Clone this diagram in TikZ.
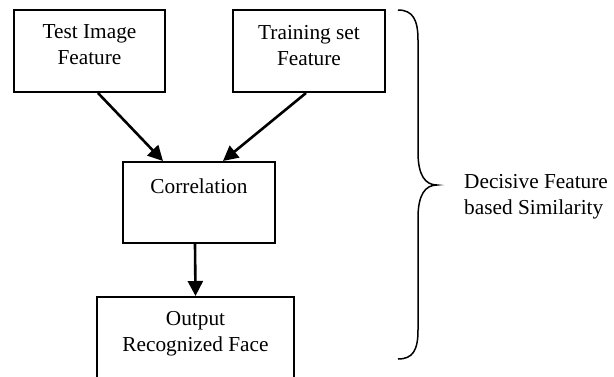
\documentclass[tikz,border=0pt]{standalone}
\usepackage{fontspec}
\setmainfont{Liberation Serif}
\usetikzlibrary{arrows.meta}
\begin{document}
\begin{tikzpicture}[x=1pt,y=-1pt,
  font=\fontsize{21.3}{26}\selectfont,
  blockbox/.style={draw,line width=2pt,inner sep=0pt,align=center},
  flow/.style={line width=2.6pt,-{Triangle[length=15pt,width=15pt]}}]
  \clip (0,0) rectangle (614,376);
  \fill[white] (0,0) rectangle (614,376);

  % blocks
  \node[blockbox,minimum width=151pt,minimum height=82pt,text depth=12pt]
    (test) at (89.5,51) {Test Image\\Feature};
  \node[blockbox,minimum width=152pt,minimum height=82pt,text depth=12pt]
    (train) at (309,51) {Training set\\Feature};
  \node[blockbox,minimum width=152pt,minimum height=81pt,text depth=33pt]
    (corr) at (199,202.5) {Correlation};
  \node[blockbox,minimum width=197pt,minimum height=90pt,text depth=21pt]
    (out) at (195.5,342) {Output\\Recognized Face};

  % connectors
  \draw[flow] ([xshift=8.5pt]test.south) -- ([xshift=-36pt]corr.north);
  \draw[flow] ([xshift=-3pt]train.south) -- ([xshift=24pt]corr.north);
  \draw[flow] ([xshift=-4pt]corr.south) -- (out.north);

  % brace spanning the blocks
  \draw[line width=1.5pt]
    (398,10) .. controls (413,10) and (418,20) .. (418,40)
    -- (418,152) .. controls (418,175) and (425,185) .. (437,185)
    .. controls (425,185) and (418,195) .. (418,218)
    -- (418,330) .. controls (418,350) and (413,359) .. (398,359);
  \node[anchor=west,align=left,inner sep=0pt] (label) at (464,197)
    {Decisive Feature\\based Similarity};
\end{tikzpicture}
\end{document}
